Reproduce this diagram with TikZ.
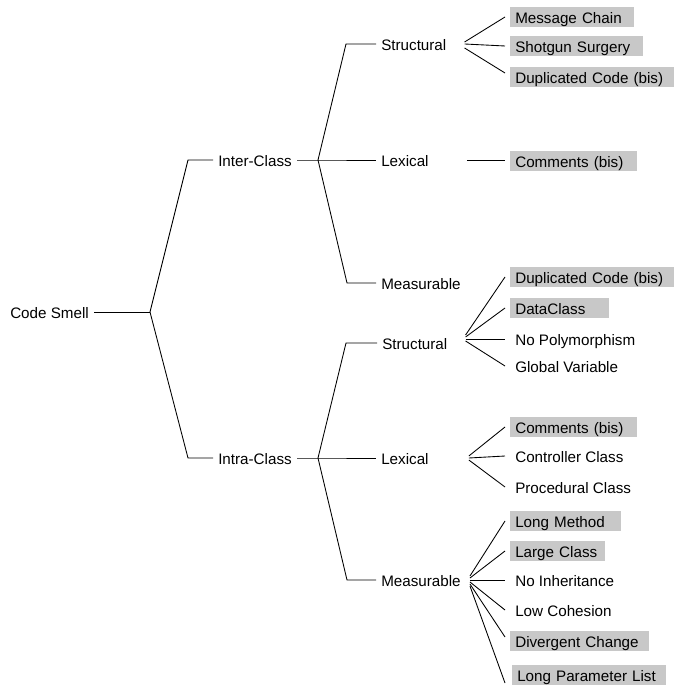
\documentclass[tikz,border=0pt]{standalone}
\usepackage{fontspec}
\setmainfont{Liberation Sans}
\usetikzlibrary{calc}
\definecolor{smellgray}{RGB}{200,200,200}

\begin{document}
\begin{tikzpicture}[x=0.75pt,y=-0.75pt,
    lbl/.style={anchor=west, inner xsep=3.75pt, inner ysep=0pt, text height=9.8pt, text depth=0pt,
                font=\fontsize{11.4}{13}\selectfont},
    leaf/.style={lbl, minimum height=14.8pt},
    hl/.style={leaf, fill=smellgray, align=left, text width=#1},
    edge/.style={black, line width=0.65pt}]
       \useasboundingbox (0,0) rectangle (682,691);

       \node[lbl] (cs) at (5,312) {Code Smell};
       \node[lbl] (ic) at (213,160) {Inter-Class};
       \node[lbl] (ac) at (213,458) {Intra-Class};

       \node[lbl] (is) at (376,44) {Structural};
       \node[lbl] (il) at (376,160) {Lexical};
       \node[lbl] (im) at (376,283) {Measurable};
       \node[lbl] (as) at (377,343) {Structural};
       \node[lbl] (al) at (376,458) {Lexical};
       \node[lbl] (am) at (376,580) {Measurable};

       \coordinate (j0) at (150,312);
       \coordinate (j1) at (318,160);
       \coordinate (j2) at (318,458);

       \node[hl=85.5pt] (mc) at (510,17) {Message Chain};
       \node[hl=92.25pt] (ss) at (510,46) {Shotgun Surgery};
       \node[hl=115.5pt] (dc1) at (510,77) {Duplicated Code (bis)};
       \node[hl=87.75pt] (cb1) at (510,161) {Comments (bis)};

       \node[hl=115.5pt] (dc2) at (510,277) {Duplicated Code (bis)};
       \node[hl=66.75pt] (dcl) at (510,308) {DataClass};
       \node[leaf] (np) at (510,339) {No Polymorphism};
       \node[leaf] (gv) at (510,366) {Global Variable};

       \node[hl=87.75pt] (cb2) at (510,427) {Comments (bis)};
       \node[leaf] (cc) at (510,456) {Controller Class};
       \node[leaf] (pc) at (510,487) {Procedural Class};

       \node[hl=75.75pt] (lm) at (510,521) {Long Method};
       \node[hl=63.75pt] (lc) at (510,551) {Large Class};
       \node[leaf] (ni) at (510,580) {No Inheritance};
       \node[leaf] (lo) at (510,610) {Low Cohesion};
       \node[hl=96.75pt] (dv) at (510,641) {Divergent Change};
       \node[hl=108pt] (lp) at (512,675) {Long Parameter List};

       % root and classes
       \draw[edge] (cs.east) -- (j0);
       \draw[edge] (j0) -- ($(ic.west)+(-25,0)$) -- (ic.west);
       \draw[edge] (j0) -- ($(ac.west)+(-25,0)$) -- (ac.west);

       \draw[edge] (ic.east) -- (j1) -- (il.west);
       \draw[edge] (j1) -- ($(is.west)+(-30,0)$) -- (is.west);
       \draw[edge] (j1) -- ($(im.west)+(-29,0)$) -- (im.west);

       \draw[edge] (ac.east) -- (j2) -- (al.west);
       \draw[edge] (j2) -- ($(as.west)+(-31,0)$) -- (as.west);
       \draw[edge] (j2) -- ($(am.west)+(-29,0)$) -- (am.west);

       % leaves
       \draw[edge] ($(is.east)+(13,-2)$) -- ($(mc.west)+(-5,0)$);
       \draw[edge] ($(is.east)+(13,0)$) -- ($(ss.west)+(-5,0)$);
       \draw[edge] ($(is.east)+(13,4)$) -- ($(dc1.west)+(-5,-4)$);
       \draw[edge] ($(il.east)+(33,0)$) -- ($(cb1.west)+(-5,-1)$);

       \draw[edge] ($(as.east)+(13,-8)$) -- ($(dc2.west)+(-5,0)$);
       \draw[edge] ($(as.east)+(13,-6)$) -- ($(dcl.west)+(-5,0)$);
       \draw[edge] ($(as.east)+(13,-4)$) -- ($(np.west)+(-5,0)$);
       \draw[edge] ($(as.east)+(13,-2)$) -- ($(gv.west)+(-5,0)$);

       \draw[edge] ($(al.east)+(35,-2)$) -- ($(cb2.west)+(-5,0)$);
       \draw[edge] ($(al.east)+(35,0)$) -- ($(cc.west)+(-5,0)$);
       \draw[edge] ($(al.east)+(35,2)$) -- ($(pc.west)+(-5,0)$);

       \draw[edge] ($(am.east)+(4,-4)$) -- ($(lm.west)+(-5,0)$);
       \draw[edge] ($(am.east)+(4,-2)$) -- ($(lc.west)+(-5,0)$);
       \draw[edge] ($(am.east)+(4,0)$) -- ($(ni.west)+(-5,0)$);
       \draw[edge] ($(am.east)+(4,2)$) -- ($(lo.west)+(-5,0)$);
       \draw[edge] ($(am.east)+(4,4)$) -- ($(dv.west)+(-5,-4)$);
       \draw[edge] ($(am.east)+(4,6)$) -- ($(lp.west)+(-7,8)$);
      \end{tikzpicture}
\end{document}
